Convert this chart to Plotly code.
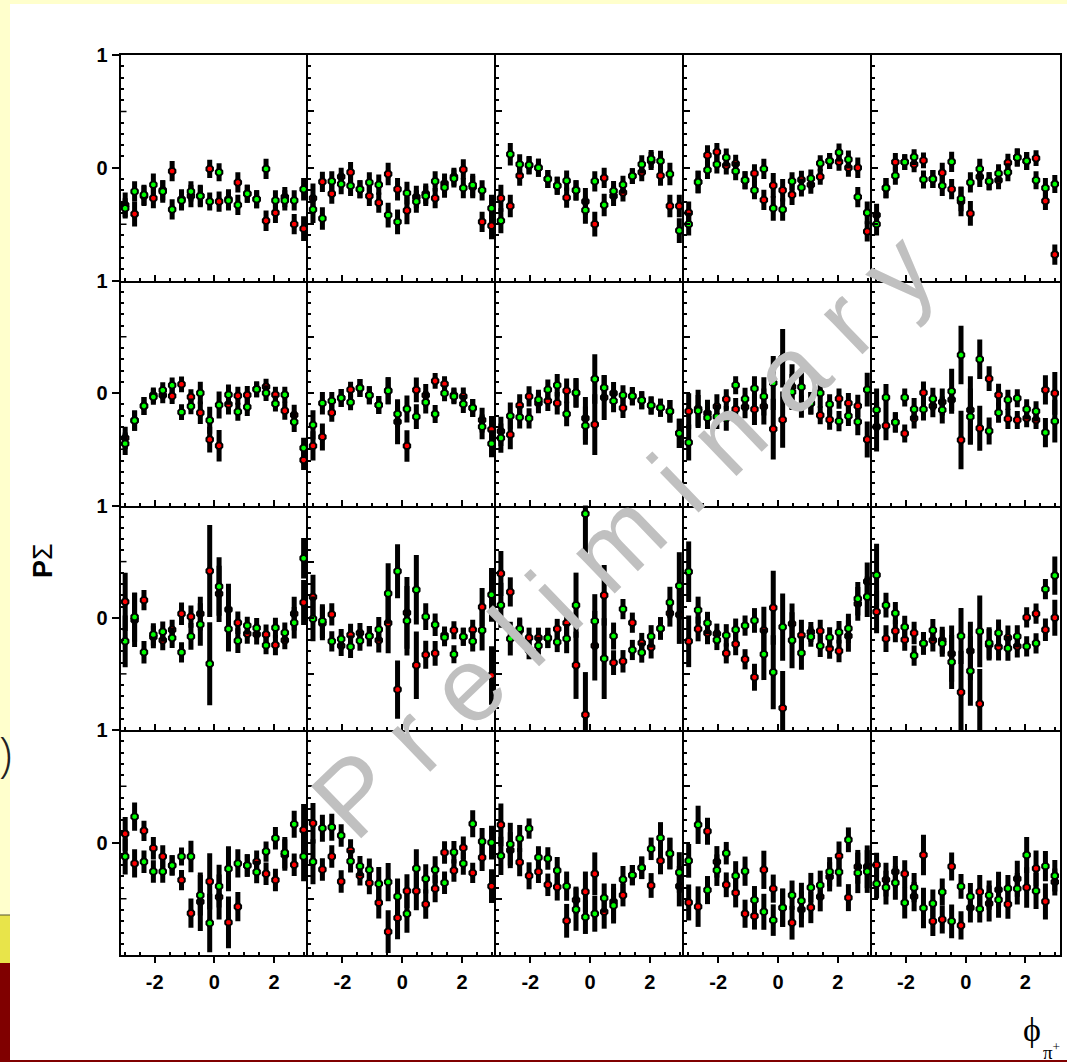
import plotly.graph_objects as go

W, H = 1067, 1062

phi = [-2.985, -2.670, -2.356, -2.042, -1.728, -1.414, -1.100, -0.785, -0.471, -0.157,
       0.157, 0.471, 0.785, 1.100, 1.414, 1.728, 2.042, 2.356, 2.670, 2.985]

x_major = [-2, 0, 2]
x_minor = [-3, -2.5, -1.5, -1, -0.5, 0.5, 1, 1.5, 2.5, 3]
y_minor = [-0.9, -0.8, -0.7, -0.6, -0.4, -0.3, -0.2, -0.1, 0.1, 0.2, 0.3, 0.4, 0.6, 0.7, 0.8, 0.9]

# Row 1
green_r1c1 = [-0.36, -0.21, -0.24, -0.15, -0.21, -0.37, -0.29, -0.21, -0.25, -0.30, -0.04, -0.29, -0.33, -0.23, -0.28, -0.01, -0.29, -0.29, -0.29, -0.19]
red_r1c1 = [-0.33, -0.41, -0.25, -0.27, -0.20, -0.03, -0.28, -0.25, -0.25, -0.01, -0.30, -0.28, -0.13, -0.23, -0.28, -0.47, -0.40, -0.26, -0.50, -0.54]
green_err_r1c1 = [0.09, 0.09, 0.09, 0.10, 0.10, 0.09, 0.09, 0.09, 0.09, 0.08, 0.08, 0.09, 0.09, 0.08, 0.08, 0.09, 0.09, 0.09, 0.09, 0.10]
red_err_r1c1 = [0.11, 0.11, 0.09, 0.09, 0.09, 0.09, 0.09, 0.10, 0.10, 0.08, 0.09, 0.09, 0.09, 0.08, 0.08, 0.09, 0.09, 0.09, 0.09, 0.11]

green_r1c2 = [-0.37, -0.45, -0.12, -0.145, -0.16, -0.19, -0.13, -0.15, -0.42, -0.48, -0.225, -0.30, -0.25, -0.12, -0.175, -0.095, -0.18, -0.154, -0.20, -0.36]
red_r1c2 = [-0.27, -0.125, -0.23, -0.08, -0.04, -0.19, -0.25, -0.31, -0.055, -0.19, -0.38, -0.26, -0.23, -0.27, -0.14, -0.08, -0.015, -0.17, -0.48, -0.515]
green_err_r1c2 = [0.12, 0.10, 0.09, 0.09, 0.09, 0.08, 0.09, 0.09, 0.11, 0.11, 0.10, 0.10, 0.09, 0.09, 0.09, 0.08, 0.09, 0.10, 0.09, 0.12]
red_err_r1c2 = [0.13, 0.09, 0.09, 0.08, 0.09, 0.08, 0.09, 0.09, 0.10, 0.10, 0.12, 0.10, 0.09, 0.09, 0.09, 0.08, 0.09, 0.10, 0.09, 0.12]

green_r1c3 = [-0.47, 0.12, 0.03, 0.025, 0.0, -0.10, -0.16, -0.115, -0.20, -0.376, -0.12, -0.33, -0.207, -0.15, -0.074, 0.03, 0.077, 0.06, -0.056, -0.557]
red_r1c3 = [-0.27, -0.34, -0.07, 0.02, 0.0, -0.10, -0.16, -0.265, -0.20, -0.30, -0.50, -0.09, -0.25, -0.22, -0.074, -0.04, 0.06, -0.07, -0.34, -0.34]
green_err_r1c3 = [0.11, 0.10, 0.09, 0.08, 0.08, 0.08, 0.08, 0.09, 0.09, 0.12, 0.09, 0.10, 0.09, 0.08, 0.07, 0.08, 0.08, 0.09, 0.10, 0.11]
red_err_r1c3 = [0.12, 0.10, 0.09, 0.08, 0.08, 0.08, 0.08, 0.09, 0.09, 0.12, 0.11, 0.09, 0.09, 0.08, 0.07, 0.08, 0.08, 0.09, 0.10, 0.10]

green_r1c4 = [-0.50, -0.127, -0.02, 0.03, 0.09, -0.03, -0.11, -0.20, -0.01, -0.36, -0.37, -0.12, -0.175, -0.095, 0.04, 0.06, 0.136, 0.074, -0.26, -0.40]
red_r1c4 = [-0.40, -0.127, 0.11, 0.14, 0.02, 0.035, -0.11, -0.05, -0.285, -0.157, -0.20, -0.24, -0.107, -0.15, -0.08, 0.06, 0.053, 0.0, 0.0, -0.565]
green_err_r1c4 = [0.10, 0.10, 0.08, 0.08, 0.08, 0.08, 0.08, 0.08, 0.09, 0.11, 0.10, 0.08, 0.08, 0.08, 0.07, 0.07, 0.08, 0.08, 0.09, 0.10]
red_err_r1c4 = [0.10, 0.10, 0.09, 0.08, 0.08, 0.08, 0.08, 0.08, 0.09, 0.11, 0.10, 0.09, 0.08, 0.08, 0.07, 0.07, 0.08, 0.08, 0.09, 0.09]

green_r1c5 = [-0.50, -0.18, -0.07, 0.05, 0.095, -0.104, -0.10, -0.16, 0.053, -0.276, -0.13, -0.01, -0.12, -0.05, -0.04, 0.09, 0.06, -0.11, -0.18, -0.145]
red_r1c5 = [-0.42, -0.18, 0.05, 0.05, 0.03, 0.065, -0.10, -0.045, -0.19, -0.30, -0.405, -0.08, -0.12, -0.11, 0.045, 0.09, 0.06, 0.085, -0.295, -0.77]
green_err_r1c5 = [0.10, 0.09, 0.08, 0.07, 0.07, 0.08, 0.08, 0.09, 0.09, 0.11, 0.09, 0.09, 0.08, 0.08, 0.08, 0.08, 0.08, 0.08, 0.09, 0.08]
red_err_r1c5 = [0.10, 0.09, 0.08, 0.07, 0.07, 0.07, 0.08, 0.09, 0.09, 0.13, 0.11, 0.09, 0.08, 0.08, 0.08, 0.08, 0.08, 0.07, 0.08, 0.09]

# Row 2
green_r2c1 = [-0.45, -0.245, -0.115, -0.035, 0.025, 0.068, -0.17, -0.118, 0.0, -0.243, -0.107, -0.015, -0.166, -0.124, 0.033, 0.0, -0.095, -0.015, -0.257, -0.488]
red_r2c1 = [-0.40, -0.245, -0.115, -0.02, -0.02, -0.027, 0.077, -0.036, -0.175, -0.414, -0.468, -0.10, -0.024, -0.018, 0.033, 0.056, -0.015, -0.157, -0.195, -0.595]
green_err_r2c1 = [0.10, 0.09, 0.08, 0.07, 0.07, 0.07, 0.07, 0.07, 0.10, 0.12, 0.12, 0.09, 0.08, 0.08, 0.07, 0.07, 0.07, 0.07, 0.09, 0.09]
red_err_r2c1 = [0.10, 0.09, 0.08, 0.07, 0.07, 0.07, 0.07, 0.07, 0.10, 0.115, 0.14, 0.09, 0.08, 0.08, 0.07, 0.07, 0.07, 0.08, 0.09, 0.09]

green_r2c2 = [-0.284, -0.09, -0.07, -0.044, -0.083, 0.044, -0.02, -0.107, 0.02, -0.186, -0.142, -0.21, -0.083, -0.186, -0.003, -0.03, -0.098, -0.133, -0.30, -0.45]
red_r2c2 = [-0.47, -0.39, -0.175, -0.044, 0.03, 0.044, -0.02, -0.107, 0.02, -0.255, -0.47, 0.027, -0.02, 0.107, 0.08, -0.02, -0.03, -0.133, -0.24, -0.325]
green_err_r2c2 = [0.13, 0.10, 0.08, 0.08, 0.07, 0.08, 0.08, 0.08, 0.12, 0.12, 0.12, 0.11, 0.10, 0.08, 0.07, 0.07, 0.08, 0.08, 0.11, 0.12]
red_err_r2c2 = [0.13, 0.12, 0.08, 0.08, 0.07, 0.08, 0.08, 0.08, 0.12, 0.20, 0.14, 0.11, 0.10, 0.07, 0.07, 0.07, 0.08, 0.08, 0.11, 0.12]

green_r2c3 = [-0.40, -0.204, -0.216, -0.225, -0.06, 0.03, 0.068, -0.186, 0.003, -0.29, 0.124, 0.047, -0.07, -0.02, -0.027, -0.065, -0.11, -0.13, -0.163, -0.358]
red_r2c3 = [-0.34, -0.37, -0.11, -0.03, -0.09, -0.07, -0.09, 0.02, 0.0, -0.225, -0.28, -0.04, -0.003, -0.133, -0.03, -0.065, -0.11, -0.13, -0.163, -0.358]
green_err_r2c3 = [0.13, 0.12, 0.10, 0.09, 0.09, 0.09, 0.10, 0.11, 0.13, 0.17, 0.22, 0.11, 0.10, 0.09, 0.08, 0.08, 0.08, 0.08, 0.10, 0.13]
red_err_r2c3 = [0.13, 0.13, 0.10, 0.09, 0.09, 0.09, 0.10, 0.11, 0.13, 0.19, 0.27, 0.20, 0.10, 0.09, 0.08, 0.08, 0.08, 0.08, 0.10, 0.13]

green_r2c4 = [-0.44, -0.157, -0.22, -0.21, -0.225, 0.07, -0.053, 0.04, -0.03, 0.09, 0.31, 0.01, 0.053, -0.09, 0.0, -0.10, -0.25, -0.204, -0.255, 0.03]
red_r2c4 = [-0.163, -0.14, -0.18, -0.12, -0.056, -0.145, -0.124, -0.145, -0.12, -0.32, -0.237, 0.056, -0.12, -0.09, -0.198, -0.237, -0.05, -0.09, -0.115, -0.414]
green_err_r2c4 = [0.16, 0.14, 0.10, 0.11, 0.11, 0.08, 0.10, 0.11, 0.17, 0.24, 0.26, 0.16, 0.13, 0.10, 0.13, 0.09, 0.09, 0.09, 0.12, 0.15]
red_err_r2c4 = [0.16, 0.17, 0.12, 0.11, 0.09, 0.10, 0.10, 0.14, 0.16, 0.27, 0.25, 0.20, 0.10, 0.10, 0.08, 0.09, 0.09, 0.09, 0.10, 0.16]

green_r2c5 = [-0.15, -0.04, -0.26, -0.04, -0.145, -0.145, -0.053, -0.15, 0.015, 0.337, -0.21, 0.30, -0.337, -0.175, -0.06, -0.047, -0.145, -0.163, -0.352, -0.25]
red_r2c5 = [-0.30, -0.29, -0.26, -0.36, -0.225, 0.003, -0.115, -0.08, -0.06, -0.417, -0.15, -0.314, 0.127, -0.018, -0.23, -0.24, -0.225, -0.24, 0.027, -0.003]
green_err_r2c5 = [0.19, 0.12, 0.09, 0.08, 0.10, 0.10, 0.10, 0.12, 0.20, 0.26, 0.25, 0.175, 0.12, 0.09, 0.09, 0.08, 0.09, 0.09, 0.13, 0.19]
red_err_r2c5 = [0.22, 0.13, 0.09, 0.08, 0.09, 0.10, 0.10, 0.12, 0.10, 0.26, 0.30, 0.20, 0.11, 0.10, 0.09, 0.08, 0.08, 0.08, 0.13, 0.19]

# Row 3
green_r3c1 = [-0.21, 0.006, -0.308, -0.15, -0.124, -0.18, -0.308, -0.166, -0.06, -0.41, 0.278, -0.10, -0.204, -0.07, -0.092, -0.246, -0.09, -0.133, -0.044, 0.53]
red_r3c1 = [0.142, -0.02, 0.157, -0.172, -0.20, -0.107, 0.036, 0.01, 0.036, 0.417, 0.213, 0.074, -0.044, -0.142, -0.148, -0.15, -0.243, -0.20, 0.036, 0.136]
green_err_r3c1 = [0.23, 0.22, 0.10, 0.10, 0.09, 0.09, 0.09, 0.12, 0.19, 0.37, 0.26, 0.20, 0.11, 0.08, 0.09, 0.08, 0.09, 0.09, 0.14, 0.18]
red_err_r3c1 = [0.26, 0.24, 0.09, 0.10, 0.09, 0.09, 0.10, 0.10, 0.15, 0.41, 0.25, 0.23, 0.10, 0.09, 0.09, 0.09, 0.09, 0.08, 0.15, 0.20]

green_r3c2 = [-0.01, -0.03, -0.21, -0.19, -0.258, -0.204, -0.163, -0.104, 0.216, 0.414, -0.027, 0.249, 0.01, -0.062, -0.175, -0.326, -0.169, -0.21, -0.112, 0.204]
red_r3c2 = [0.184, -0.05, 0.03, -0.25, -0.154, -0.136, -0.163, -0.2, -0.047, -0.64, 0.044, -0.423, -0.33, -0.317, -0.157, -0.112, -0.169, -0.107, 0.095, -0.515]
green_err_r3c2 = [0.20, 0.15, 0.09, 0.09, 0.10, 0.09, 0.09, 0.11, 0.27, 0.24, 0.31, 0.31, 0.12, 0.10, 0.08, 0.08, 0.08, 0.09, 0.18, 0.24]
red_err_r3c2 = [0.20, 0.15, 0.10, 0.09, 0.10, 0.09, 0.09, 0.11, 0.27, 0.26, 0.32, 0.30, 0.125, 0.11, 0.08, 0.08, 0.08, 0.09, 0.17, 0.26]

green_r3c3 = [0.112, -0.186, -0.098, -0.29, -0.249, -0.18, -0.216, -0.186, 0.112, 0.926, -0.03, -0.364, -0.163, 0.077, -0.287, -0.31, -0.166, -0.095, 0.136, 0.284]
red_r3c3 = [0.394, 0.23, -0.112, -0.178, -0.178, -0.18, -0.1, -0.047, -0.423, -0.864, -0.249, 0.2, -0.4, -0.388, -0.044, -0.225, -0.263, -0.095, 0.041, 0.027]
green_err_r3c3 = [0.20, 0.15, 0.10, 0.08, 0.08, 0.09, 0.09, 0.13, 0.29, 0.37, 0.24, 0.36, 0.12, 0.09, 0.09, 0.09, 0.10, 0.10, 0.14, 0.30]
red_err_r3c3 = [0.20, 0.13, 0.10, 0.09, 0.09, 0.09, 0.09, 0.12, 0.30, 0.38, 0.31, 0.27, 0.11, 0.10, 0.09, 0.09, 0.10, 0.10, 0.12, 0.26]

green_r3c4 = [0.41, 0.068, -0.047, -0.198, -0.157, -0.107, -0.07, -0.024, -0.325, -0.485, -0.083, -0.2, -0.314, -0.169, -0.25, -0.175, -0.13, -0.095, 0.169, 0.187]
red_r3c4 = [-0.21, -0.1, -0.136, -0.142, -0.317, -0.234, -0.37, -0.53, -0.112, 0.089, -0.805, -0.053, -0.157, -0.127, -0.118, -0.275, -0.296, -0.163, 0.124, 0.323]
green_err_r3c4 = [0.27, 0.12, 0.10, 0.09, 0.10, 0.10, 0.09, 0.11, 0.23, 0.33, 0.30, 0.25, 0.15, 0.09, 0.10, 0.09, 0.10, 0.13, 0.15, 0.18]
red_err_r3c4 = [0.23, 0.11, 0.10, 0.09, 0.09, 0.10, 0.09, 0.12, 0.21, 0.33, 0.33, 0.18, 0.14, 0.09, 0.10, 0.09, 0.10, 0.14, 0.15, 0.17]

green_r3c5 = [0.38, 0.112, 0.041, -0.083, -0.337, -0.228, -0.112, -0.228, -0.394, -0.163, -0.474, -0.121, -0.225, -0.136, -0.272, -0.166, -0.255, -0.228, 0.255, 0.376]
red_r3c5 = [0.053, -0.186, -0.118, -0.195, -0.136, -0.23, -0.2, -0.2, -0.32, -0.663, -0.296, -0.767, -0.24, -0.26, -0.178, -0.255, 0.003, 0.036, -0.107, 0.0]
green_err_r3c5 = [0.28, 0.11, 0.10, 0.10, 0.09, 0.10, 0.10, 0.12, 0.24, 0.25, 0.31, 0.32, 0.14, 0.12, 0.11, 0.10, 0.09, 0.09, 0.09, 0.17]
red_err_r3c5 = [0.19, 0.12, 0.10, 0.10, 0.10, 0.10, 0.10, 0.12, 0.25, 0.37, 0.26, 0.31, 0.14, 0.12, 0.11, 0.10, 0.09, 0.09, 0.10, 0.16]

# Row 4
green_r4c1 = [-0.124, 0.23, -0.172, -0.258, -0.258, -0.204, -0.124, -0.124, -0.468, -0.716, -0.388, -0.234, -0.186, -0.204, -0.263, -0.08, 0.038, -0.092, 0.163, -0.124]
red_r4c1 = [0.077, -0.186, 0.104, -0.05, -0.124, -0.204, -0.334, -0.628, -0.527, -0.346, -0.485, -0.71, -0.571, -0.204, -0.172, -0.278, -0.334, -0.112, -0.198, 0.112]
green_err_r4c1 = [0.16, 0.125, 0.10, 0.10, 0.10, 0.09, 0.08, 0.14, 0.18, 0.26, 0.19, 0.20, 0.125, 0.10, 0.10, 0.09, 0.10, 0.14, 0.12, 0.22]
red_err_r4c1 = [0.15, 0.125, 0.09, 0.10, 0.10, 0.09, 0.09, 0.13, 0.26, 0.25, 0.20, 0.23, 0.13, 0.10, 0.10, 0.10, 0.10, 0.14, 0.10, 0.23]

green_r4c2 = [-0.172, 0.127, 0.136, 0.062, -0.166, -0.21, -0.243, -0.367, -0.352, -0.48, -0.633, -0.231, -0.323, -0.243, -0.358, -0.086, -0.186, 0.166, 0.009, 0.0]
red_r4c2 = [0.172, -0.24, -0.124, -0.346, -0.07, -0.293, -0.36, -0.536, -0.793, -0.67, -0.432, -0.432, -0.548, -0.41, -0.089, -0.249, -0.047, -0.27, -0.133, -0.388]
green_err_r4c2 = [0.20, 0.12, 0.12, 0.10, 0.10, 0.09, 0.10, 0.15, 0.17, 0.16, 0.17, 0.17, 0.13, 0.12, 0.10, 0.10, 0.10, 0.12, 0.12, 0.15]
red_err_r4c2 = [0.18, 0.10, 0.10, 0.10, 0.10, 0.09, 0.10, 0.14, 0.19, 0.19, 0.15, 0.17, 0.13, 0.12, 0.10, 0.10, 0.10, 0.09, 0.12, 0.15]

green_r4c3 = [-0.118, -0.015, 0.036, 0.124, -0.133, -0.142, -0.249, -0.388, -0.595, -0.663, -0.633, -0.494, -0.56, -0.329, -0.29, -0.225, -0.056, 0.041, -0.098, -0.266]
red_r4c3 = [0.157, -0.068, -0.175, -0.296, -0.26, -0.376, -0.396, -0.696, -0.512, -0.438, -0.278, -0.616, -0.527, -0.468, -0.29, -0.225, -0.382, -0.163, -0.098, -0.388]
green_err_r4c3 = [0.17, 0.19, 0.12, 0.09, 0.10, 0.10, 0.12, 0.13, 0.19, 0.15, 0.16, 0.13, 0.16, 0.12, 0.09, 0.10, 0.10, 0.14, 0.14, 0.18]
red_err_r4c3 = [0.19, 0.16, 0.125, 0.12, 0.10, 0.10, 0.12, 0.15, 0.12, 0.18, 0.19, 0.15, 0.16, 0.10, 0.09, 0.10, 0.11, 0.12, 0.14, 0.18]

green_r4c4 = [-0.163, 0.157, -0.423, -0.246, -0.095, -0.296, -0.255, -0.512, -0.616, -0.69, -0.58, -0.468, -0.518, -0.4, -0.38, -0.26, -0.263, 0.024, -0.27, -0.258]
red_r4c4 = [-0.533, -0.57, 0.1, -0.172, -0.376, -0.447, -0.633, -0.654, -0.243, -0.41, -0.58, -0.713, -0.595, -0.577, -0.482, -0.305, -0.121, -0.49, -0.216, -0.216]
green_err_r4c4 = [0.15, 0.17, 0.125, 0.14, 0.10, 0.13, 0.13, 0.125, 0.16, 0.14, 0.17, 0.13, 0.16, 0.13, 0.13, 0.13, 0.13, 0.11, 0.18, 0.19]
red_err_r4c4 = [0.16, 0.18, 0.12, 0.14, 0.11, 0.13, 0.125, 0.12, 0.17, 0.125, 0.17, 0.15, 0.16, 0.14, 0.13, 0.13, 0.13, 0.12, 0.15, 0.19]

green_r4c5 = [-0.367, -0.4, -0.358, -0.536, -0.4, -0.583, -0.542, -0.44, -0.7, -0.39, -0.48, -0.59, -0.468, -0.509, -0.408, -0.41, -0.112, -0.43, -0.21, -0.296]
red_r4c5 = [-0.2, -0.33, -0.26, -0.278, -0.48, -0.112, -0.7, -0.684, -0.213, -0.737, -0.58, -0.438, -0.542, -0.42, -0.548, -0.323, -0.4, -0.23, -0.524, -0.35]
green_err_r4c5 = [0.13, 0.15, 0.15, 0.14, 0.13, 0.18, 0.125, 0.12, 0.15, 0.11, 0.12, 0.12, 0.13, 0.16, 0.12, 0.14, 0.16, 0.16, 0.135, 0.14]
red_err_r4c5 = [0.11, 0.15, 0.14, 0.12, 0.13, 0.18, 0.13, 0.125, 0.125, 0.125, 0.13, 0.15, 0.16, 0.16, 0.13, 0.16, 0.18, 0.16, 0.16, 0.12]

COL_PX = [120.5, 308.3, 496.2, 684.0, 871.9, 1059.5]
ROW_PX = [55, 280.5, 505.5, 730, 955]
RED, GREEN = "#ff0000", "#00ff00"
LABEL_FONT = dict(family="Liberation Sans", size=20, color="black", weight=700)


def fx(px):
    return px / W


def fy(py):
    return 1 - py / H


fig = go.Figure()
shapes = []
annots = []

for r in range(4):
    for c in range(5):
        idx = r * 5 + c + 1
        suf = "" if idx == 1 else str(idx)
        xa, ya = "xaxis" + suf, "yaxis" + suf
        xref, yref = "x" + suf, "y" + suf
        key = f"r{r + 1}c{c + 1}"
        for colour, name in ((RED, "red"), (GREEN, "green")):
            fig.add_trace(go.Scatter(
                x=phi,
                y=globals()[f"{name}_{key}"],
                xaxis=xref, yaxis=yref,
                mode="markers",
                showlegend=False,
                marker=dict(symbol="octagon", size=7, color=colour, line=dict(color="black", width=2)),
                error_y=dict(type="data", array=globals()[f"{name}_err_{key}"], visible=True,
                             thickness=5, width=0, color="black"),
            ))
        bottom = r == 3
        xspec = dict(tickvals=x_major, ticks="outside" if bottom else "inside", showticklabels=bottom)
        if bottom:
            xspec["ticktext"] = ["-2", "0", "2"]
        fig.update_layout({
            xa: dict(
                domain=[fx(COL_PX[c]), fx(COL_PX[c + 1])],
                anchor=yref, range=[-3.14159, 3.14159],
                showgrid=False, zeroline=False, showline=True, mirror=r == 0,
                linecolor="black", linewidth=2,
                tickmode="array",
                ticklen=6, tickwidth=1.5, tickcolor="black",
                tickfont=LABEL_FONT, ticklabelstandoff=2,
                minor=dict(tickmode="array", tickvals=x_minor, ticks="inside", ticklen=3,
                           tickwidth=1.5, tickcolor="black"),
                **xspec,
            ),
        })
        if c == 0:
            if r == 0:
                tv, tt = [-1, 0, 1], ["1", "0", "1"]
            elif r == 3:
                tv, tt = [0], ["0"]
            else:
                tv, tt = [-1, 0], ["1", "0"]
            yspec = dict(tickvals=tv, ticktext=tt, ticks="outside", ticklen=7, showticklabels=True)
            for v in (-0.5, 0.5):
                shapes.append(dict(type="line", xref=xref + " domain", yref=yref, x0=0, x1=6 / 187.8,
                                   y0=v, y1=v, line=dict(color="black", width=1.5)))
        else:
            yspec = dict(tickvals=[-0.5, 0, 0.5], ticks="inside", ticklen=6, showticklabels=False)
        fig.update_layout({
            ya: dict(
                domain=[fy(ROW_PX[r + 1]), fy(ROW_PX[r])],
                anchor=xref, range=[-1, 1],
                showgrid=False, zeroline=False, showline=True, mirror=c == 4,
                linecolor="black", linewidth=2,
                tickmode="array", tickwidth=1.5, tickcolor="black", tickfont=LABEL_FONT,
                minor=dict(tickmode="array", tickvals=y_minor, ticks="inside", ticklen=3,
                           tickwidth=1.5, tickcolor="black"),
                **yspec,
            ),
        })


def page_rect(x0, y0, x1, y1, colour):
    return dict(type="rect", xref="paper", yref="paper", x0=fx(x0), x1=fx(x1), y0=fy(y1), y1=fy(y0),
                fillcolor=colour, line=dict(width=0), layer="below")


page_shapes = [
    page_rect(10, 4, W, 1060, "#ffffff"),
    page_rect(0, 915, 10, 963, "#e8e44a"),
    page_rect(0, 914.5, 10, 915.5, "#555533"),
    page_rect(0, 963, 10, H, "#800000"),
    page_rect(10, 1060, W, H, "#800000"),
]


def note(text, x, y, **kw):
    kw.setdefault("showarrow", False)
    kw.setdefault("xanchor", "center")
    kw.setdefault("yanchor", "middle")
    return dict(text=text, x=fx(x), y=fy(y), xref="paper", yref="paper", **kw)


annots += [
    note("P r e l i m i n a r y", 622, 535, textangle=-44,
         font=dict(family="Liberation Sans", size=105, color="#c0c0c0")),
    note("<b>P</b>Σ", 43, 561, textangle=-90,
         font=dict(family="Liberation Sans", size=27, color="black")),
    note("ϕ", 1032, 1029, font=dict(family="Liberation Serif", size=34, color="black")),
    note("π<sup>+</sup>", 1051, 1051, font=dict(family="Liberation Serif", size=19, color="black")),
    note(")", 14, 752, xanchor="right", font=dict(family="Open Sans", size=48, color="#222222", weight=300)),
    note("(", 388, 3, yanchor="bottom", font=dict(family="Open Sans", size=48, color="#222222", weight=300)),
]

fig.update_layout(
    width=W, height=H,
    margin=dict(l=0, r=0, t=0, b=0, pad=0, autoexpand=False),
    autosize=False,
    paper_bgcolor="#ffffcc",
    plot_bgcolor="rgba(0,0,0,0)",
    showlegend=False,
    shapes=page_shapes + shapes,
    annotations=annots,
)

fig.write_html("out.html", config={"displayModeBar": False},
               post_script="document.body.style.margin='0';document.body.style.overflow='hidden';")
